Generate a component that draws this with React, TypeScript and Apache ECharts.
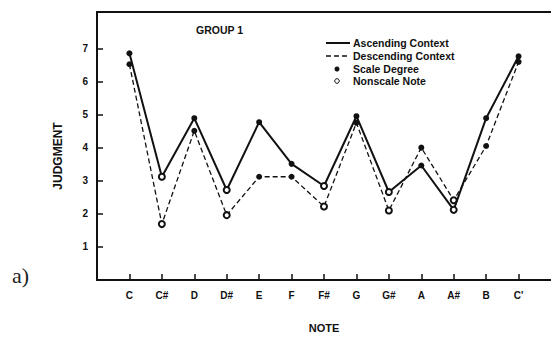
import React, { useEffect, useRef } from "react";
import * as echarts from "echarts";

const notes = ["C", "C#", "D", "D#", "E", "F", "F#", "G", "G#", "A", "A#", "B", "C'"];
const isScale = [true, false, true, false, true, true, false, true, false, true, false, true, true];
const ascending = [6.85, 3.12, 4.89, 2.72, 4.77, 3.51, 2.84, 4.95, 2.66, 3.46, 2.12, 4.89, 6.76];
const descending = [6.52, 1.69, 4.51, 1.96, 3.12, 3.12, 2.22, 4.75, 2.1, 4.0, 2.41, 4.05, 6.59];
const yTicks = [1, 2, 3, 4, 5, 6, 7];
const legendItems = ["Ascending Context", "Descending Context", "Scale Degree", "Nonscale Note"];

const FONT = "'Liberation Sans', Arial, sans-serif";

function makeData(vals: number[]) {
  return vals.map((v, i) => ({
    value: [i + 1, v],
    symbol: isScale[i] ? "circle" : "emptyCircle",
    symbolSize: 6,
    itemStyle: { color: "#111", borderWidth: isScale[i] ? 0 : 1.1 },
  }));
}

export default function App() {
  const ref = useRef<HTMLDivElement>(null);
  useEffect(() => {
    if (!ref.current) return;
    const chart = echarts.init(ref.current, null, { renderer: "svg" });
    const xTickVals = notes.map((_, i) => i + 1);
    const lblStyle = { fontFamily: FONT, fontWeight: "bold" as const, fontSize: 10, color: "#111" };
    chart.setOption({
      animation: false,
      backgroundColor: "#fff",
      grid: { left: 97, right: 0, top: 12, bottom: 57 },
      xAxis: [
        {
          type: "value",
          min: 0,
          max: 14,
          interval: 1,
          splitLine: { show: false },
          axisLine: { show: true, lineStyle: { color: "#111", width: 2 } },
          axisTick: { show: true, inside: true, length: 6, customValues: xTickVals, lineStyle: { color: "#111", width: 1.5 } },
          axisLabel: {
            customValues: xTickVals,
            margin: 10,
            formatter: (v: number) => notes[Math.round(v) - 1] ?? "",
            ...lblStyle,
          },
          name: "NOTE",
          nameLocation: "middle",
          nameGap: 42,
          nameTextStyle: { ...lblStyle, fontSize: 11, verticalAlign: "top" },
        },
        {
          type: "value",
          position: "top",
          min: 0,
          max: 14,
          splitLine: { show: false },
          axisLine: { show: true, onZero: false, lineStyle: { color: "#111", width: 2 } },
          axisTick: { show: false },
          axisLabel: { show: false },
        },
      ],
      yAxis: {
        type: "value",
        min: 0,
        max: 8.1,
        interval: 1,
        splitLine: { show: false },
        axisLine: { show: true, lineStyle: { color: "#111", width: 2 } },
        axisTick: { show: true, inside: true, length: 6, customValues: yTicks, lineStyle: { color: "#111", width: 1.5 } },
        axisLabel: { customValues: yTicks, margin: 9, ...lblStyle },
      },
      series: [
        {
          name: "Ascending Context",
          type: "line",
          data: makeData(ascending),
          lineStyle: { color: "#111", width: 2 },
          z: 3,
        },
        {
          name: "Descending Context",
          type: "line",
          data: makeData(descending),
          lineStyle: { color: "#111", width: 1.3, type: [5, 3] },
          z: 2,
        },
      ],
      graphic: [
        {
          type: "text",
          x: 58,
          y: 156,
          rotation: Math.PI / 2,
          style: { text: "JUDGMENT", font: `bold 12px ${FONT}`, fill: "#111", textAlign: "center", textVerticalAlign: "middle" },
        },
        { type: "text", left: 196, top: 24, style: { text: "GROUP 1", font: `bold 10.5px ${FONT}`, fill: "#111" } },
        { type: "line", shape: { x1: 326, y1: 43, x2: 350, y2: 43 }, style: { stroke: "#111", lineWidth: 2 } },
        { type: "line", shape: { x1: 326, y1: 56, x2: 350, y2: 56 }, style: { stroke: "#111", lineWidth: 1.3, lineDash: [5, 3] } },
        { type: "circle", shape: { cx: 337, cy: 69, r: 2.5 }, style: { fill: "#111" } },
        { type: "circle", shape: { cx: 337, cy: 81, r: 2.3 }, style: { fill: "#fff", stroke: "#111", lineWidth: 1 } },
        ...legendItems.map((t, i) => ({
          type: "text",
          left: 353,
          top: [37, 50, 63, 75][i],
          style: { text: t, font: `bold 10.5px ${FONT}`, fill: "#111" },
        })),
        { type: "text", left: 12, top: 264, style: { text: "a)", font: `22px 'Liberation Serif', 'DejaVu Serif', serif`, fill: "#222" } },
      ],
    });
    return () => chart.dispose();
  }, []);
  return <div ref={ref} style={{ position: "fixed", left: 0, top: 0, width: 551, height: 338 }} />;
}
